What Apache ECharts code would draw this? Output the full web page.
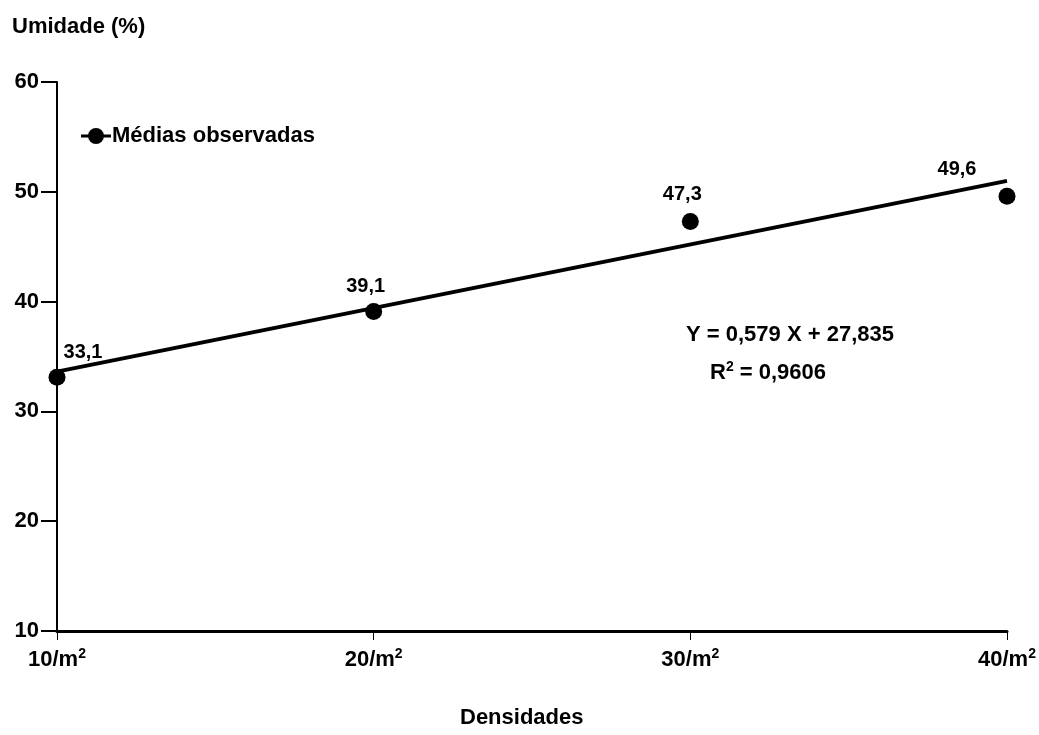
<!DOCTYPE html>
<html>
<head>
<meta charset="utf-8">
<script src="https://cdn.jsdelivr.net/npm/echarts@6/dist/echarts.min.js"></script>
<style>
  html, body { margin: 0; padding: 0; background: #fff; }
  #chart { width: 1039px; height: 735px; }
</style>
</head>
<body>
<div id="chart"></div>
<script>
// Densidades (plantas/m²) e umidade média observada (%)
const densidades = [10, 20, 30, 40];
const umidade = [33.1, 39.1, 47.3, 49.6];
const xTicks = ['10', '20', '30', '40'];
const yTicks = [10, 20, 30, 40, 50, 60];

// Regressão linear ajustada
const coefA = 0.579;
const coefB = 27.835;
const r2 = 0.9606;

// Deslocamento dos rótulos de valor em relação a cada ponto
const labelShift = [[26, 2], [-8, 2], [-8, 0], [-50, 0]];

const FONT = "'Liberation Sans', Arial, sans-serif";
const fmt = v => String(v).replace('.', ',');

const chart = echarts.init(document.getElementById('chart'));

const pontos = densidades.map((d, i) => ({
  value: [d, umidade[i]],
  label: { offset: labelShift[i] }
}));

const xMin = densidades[0], xMax = densidades[densidades.length - 1];
const reta = [[xMin, coefA * xMin + coefB], [xMax, coefA * xMax + coefB]];

chart.setOption({
  backgroundColor: '#fff',
  animation: false,
  grid: { left: 57, right: 32, top: 82, bottom: 104 },
  legend: {
    left: 76, top: 120,
    data: [{ name: 'Médias observadas' }],
    icon: 'path://M0,7.5 L30,7.5 L30,10.5 L0,10.5 Z M15,1 A8,8 0 1,1 15,17 A8,8 0 1,1 15,1 Z',
    itemWidth: 30, itemHeight: 16, itemGap: 0,
    itemStyle: { color: '#000', opacity: 1 },
    textStyle: { fontFamily: FONT, fontWeight: 'bold', fontSize: 22, color: '#000', padding: [0, 0, 0, -4] }
  },
  xAxis: {
    type: 'value', min: 10, max: 40, interval: 10,
    splitLine: { show: false },
    axisLine: { lineStyle: { color: '#000', width: 3 } },
    axisTick: { show: true, length: 9, lineStyle: { color: '#000', width: 1 } },
    axisLabel: {
      margin: 16,
      fontFamily: FONT, fontWeight: 'bold', fontSize: 22, color: '#000',
      formatter: v => xTicks[densidades.indexOf(v)] + '/m{s|2}',
      rich: {
        s: { fontFamily: FONT, fontWeight: 'bold', fontSize: 14, color: '#000', verticalAlign: 'top', padding: [0, 0, 12, 0] }
      }
    }
  },
  yAxis: {
    type: 'value', min: 10, max: 60, interval: 10,
    splitLine: { show: false },
    axisLine: { show: true, lineStyle: { color: '#000', width: 2 } },
    axisTick: { show: true, length: 16, lineStyle: { color: '#000', width: 2 } },
    axisLabel: {
      margin: 18,
      fontFamily: FONT, fontWeight: 'bold', fontSize: 22, color: '#000',
      formatter: v => yTicks.indexOf(v) >= 0 ? String(v) : ''
    }
  },
  graphic: [
    { type: 'text', left: 12, top: 16,
      style: { text: 'Umidade (%)', fontFamily: FONT, fontWeight: 'bold', fontSize: 22, fill: '#000' } },
    { type: 'text', left: 460, top: 707,
      style: { text: 'Densidades', fontFamily: FONT, fontWeight: 'bold', fontSize: 22, fill: '#000' } },
    { type: 'text', left: 686, top: 324,
      style: { text: 'Y = ' + fmt(coefA) + ' X + ' + fmt(coefB), fontFamily: FONT, fontWeight: 'bold', fontSize: 22, fill: '#000' } },
    { type: 'text', left: 710, top: 360,
      style: {
        text: 'R{s|2} = ' + fmt(r2),
        fontFamily: FONT, fontWeight: 'bold', fontSize: 22, fill: '#000',
        rich: { s: { fontFamily: FONT, fontWeight: 'bold', fontSize: 14, fill: '#000', verticalAlign: 'top', padding: [0, 0, 12, 0] } }
      } }
  ],
  series: [
    {
      name: 'Regressão',
      type: 'line',
      data: reta,
      symbol: 'none',
      silent: true,
      lineStyle: { color: '#000', width: 4 },
      z: 2
    },
    {
      name: 'Médias observadas',
      type: 'scatter',
      data: pontos,
      symbol: 'circle',
      symbolSize: 17,
      itemStyle: { color: '#000', opacity: 1 },
      label: {
        show: true, position: 'top', distance: 8,
        fontFamily: FONT, fontWeight: 'bold', fontSize: 20, color: '#000', opacity: 1,
        formatter: p => fmt(p.value[1])
      },
      z: 3
    }
  ]
});
</script>
</body>
</html>
